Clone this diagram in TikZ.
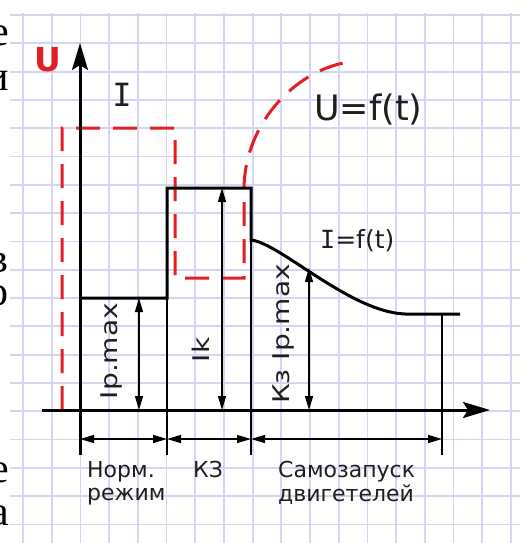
\documentclass[tikz,border=0pt]{standalone}
\usepackage{fontspec}
\setmainfont{DejaVu Sans}
\newfontfamily\serifL{Liberation Serif}
\newfontfamily\monoI{DejaVu Sans Mono}
\usetikzlibrary{arrows.meta}
\definecolor{gridc}{HTML}{D4D4F4}
\definecolor{redc}{HTML}{E31E24}
\definecolor{txt}{HTML}{1E1E1E}
\begin{document}
\begin{tikzpicture}[x=1pt,y=-1pt,
  gridline/.style={draw=gridc,line width=1.8pt},
  frag/.style={font=\serifL\fontsize{42}{42}\selectfont,inner sep=0pt,anchor=base east,text height=19pt,text depth=0pt},
  redline/.style={draw=redc,line width=3pt,dash pattern=on 24pt off 13pt},
  thick line/.style={draw=black,line width=3pt},
  thin line/.style={draw=black,line width=1.4pt},
  axisarrow/.style={thick line,-{Stealth[length=27pt,width=16pt,inset=5pt]}},
  dimarrow/.style={thin line,{Triangle[length=14pt,width=8pt]}-{Triangle[length=14pt,width=8pt]}},
  biglabel/.style={inner sep=0pt,anchor=base west,text=txt},
  rotlabel/.style={inner sep=0pt,rotate=90,text=txt,font=\fontsize{23}{23}\selectfont},
  botlabel/.style={inner sep=0pt,anchor=base west,text=txt,font=\fontsize{22}{22}\selectfont}]
\useasboundingbox (0,0) rectangle (520,543);
\fill[white] (0,0) rectangle (520,543);
% grid
\foreach \i in {0,...,17} \draw[gridline] ({23+28.7*\i},13) -- ({23+28.7*\i},543);
\foreach \j in {0,...,18} \draw[gridline] (10,{15+28.3*\j}) -- (520,{15+28.3*\j});
% clipped text fragments at the left edge
\begin{scope}
\clip (0,0) rectangle (14,543);
\node[frag] (f1) at (9,46) {е};
\node[frag] (f2) at (9,90) {и};
\node[frag] (f3) at (9,272) {в};
\node[frag] (f4) at (9,305) {о};
\node[frag] (f5) at (9,482) {е};
\node[frag] (f6) at (9,525) {а};
\end{scope}
% coordinates
\coordinate (yTop) at (80,43);
\coordinate (yBot) at (80,455);
\coordinate (xL) at (42,410);
\coordinate (xR) at (490,410);
\coordinate (r1) at (62,410);
\coordinate (r2) at (62,128);
\coordinate (r3) at (175,128);
\coordinate (r4) at (175,278);
\coordinate (r5) at (244,278);
\coordinate (r6) at (244,190);
\coordinate (r7) at (350,62);
\coordinate (a1) at (80,298);
\coordinate (a2) at (167,298);
\coordinate (a3) at (167,188);
\coordinate (a4) at (251,188);
\coordinate (a5) at (251,240);
\coordinate (a6) at (405,314);
\coordinate (a7) at (460,314);
\coordinate (t2) at (167,455);
\coordinate (t3) at (251,455);
\coordinate (t4t) at (442,314);
\coordinate (t4) at (442,455);
\coordinate (ipT) at (139,298);
\coordinate (ipB) at (139,410);
\coordinate (ikT) at (222,188);
\coordinate (ikB) at (222,410);
\coordinate (kzT) at (309,268);
\coordinate (kzB) at (309,410);
\coordinate (h1) at (80,439);
\coordinate (h2) at (167,439);
\coordinate (h3) at (251,439);
\coordinate (h4) at (442,439);
% red dashed U curve
\draw[redline] (r1) -- (r2) -- (r3) -- (r4) -- (r5) -- (r6) .. controls (244,120) and (300,68) .. (r7);
% thin vertical lines
\draw[thin line] (a2) -- (t2);
\draw[thin line] (a5) -- (t3);
\draw[thin line] (t4t) -- (t4);
% I curve
\draw[thick line,line join=miter] (a1) -- (a2) -- (a3) -- (a4) -- (a5) .. controls (280,243) and (350,312) .. (a6) -- (a7);
% axes
\draw[axisarrow] (yBot) -- (yTop);
\draw[axisarrow] (xL) -- (xR);
% dimension arrows
\draw[dimarrow] (ipT) -- (ipB);
\draw[dimarrow] (ikT) -- (ikB);
\draw[dimarrow] (kzT) -- (kzB);
\draw[dimarrow] (h1) -- (h2);
\draw[dimarrow] (h2) -- (h3);
\draw[dimarrow] (h3) -- (h4);
% labels
\node[text=redc,font=\bfseries\fontsize{33}{33}\selectfont,inner sep=0pt] (lU) at (48,60) {U};
\node[font=\monoI\fontsize{32}{32}\selectfont,inner sep=0pt,text=txt] (lI) at (122,95) {I};
\node[biglabel,font=\fontsize{35}{35}\selectfont] (lUf) at (314,120) {U=f(t)};
\node[biglabel,font=\fontsize{25}{25}\selectfont] (lIf) at (320,248) {{\monoI I}=f(t)};
\node[rotlabel] (lip) at (112,351) {\scalebox{1.22}[1]{Ip.max}};
\node[rotlabel] (lik) at (201,350) {\scalebox{1.22}[1]{Ik}};
\node[rotlabel] (lkz) at (284,334) {\scalebox{1.22}[1]{Кз Ip.max}};
\node[botlabel] (n1) at (87,477) {Норм.};
\node[botlabel] (n2) at (87,500) {режим};
\node[botlabel] (n3) at (193,477) {КЗ};
\node[botlabel] (n4) at (278,477) {Самозапуск};
\node[botlabel] (n5) at (278,501) {двигетелей};
\end{tikzpicture}
\end{document}
